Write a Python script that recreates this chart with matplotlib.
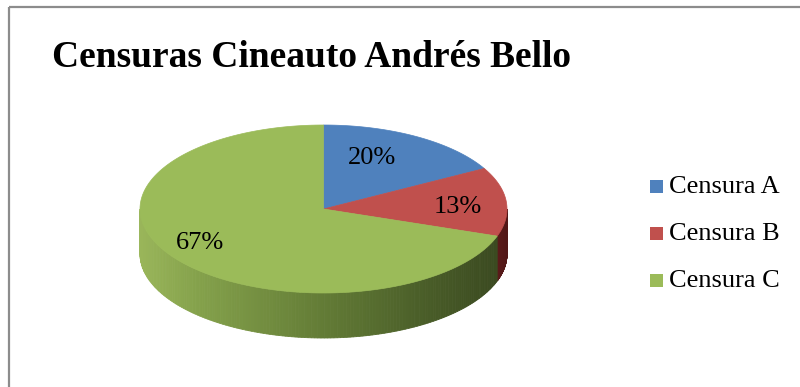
import numpy as np
import matplotlib
matplotlib.use("Agg")
import matplotlib.pyplot as plt
from matplotlib.patches import Polygon, Rectangle
from matplotlib.colors import to_rgb

TITLE = "Censuras Cineauto Andrés Bello"
labels = ["Censura A", "Censura B", "Censura C"]
values = [20, 13, 67]
colors = ["#4F81BD", "#C0504D", "#9BBB59"]

# side wall shading stops (x in px -> colour)
GREEN_SIDE = [(140, "#9AB65A"), (200, "#84A14B"), (323, "#637C36"),
              (420, "#4B5F29"), (500, "#3A4920")]
RED_SIDE = [(470, "#7A2624"), (510, "#4E1616")]

CX, CY, A, B, DEPTH = 323.5, 209.0, 183.5, 84.0, 45.0
PERSP = 11.4  # degrees of angular skew from the 3D view
SERIF = ["Liberation Serif", "DejaVu Serif"]


def view(theta_deg):
    # true slice angle -> angle on the drawn ellipse
    return theta_deg + PERSP * np.cos(np.radians(theta_deg))


def pt(phi_deg, r=1.0):
    t = np.radians(phi_deg)
    return CX + r * A * np.cos(t), CY - r * B * np.sin(t)


def shade(x, stops):
    xs = [s[0] for s in stops]
    cs = np.array([to_rgb(s[1]) for s in stops])
    return tuple(np.interp(x, xs, cs[:, k]) for k in range(3))


fig = plt.figure(figsize=(8.0, 3.87), dpi=100, facecolor="white")
ax = fig.add_axes([0, 0, 1, 1])
ax.set_xlim(0, 800)
ax.set_ylim(387, 0)
ax.axis("off")

# chart border (right/bottom edges fall outside the crop)
ax.add_patch(Rectangle((9, 7), 900, 500, fill=False, edgecolor="#8C8C8C", lw=1.6))

total = float(sum(values))
true_bounds = 90 - 360 * np.concatenate([[0], np.cumsum(values)]) / total
bounds = view(true_bounds)

# front side walls
for i in range(len(values)):
    hi, lo = bounds[i], bounds[i + 1]
    stops = GREEN_SIDE if i == 2 else RED_SIDE
    # visible front part is where sin(phi) < 0
    for k in range(-1, 1):
        a0 = max(lo, -180 + 360 * k)
        a1 = min(hi, 0 + 360 * k)
        if a1 <= a0:
            continue
        edges = np.linspace(a0, a1, 160)
        for t0, t1 in zip(edges[:-1], edges[1:]):
            x0, y0 = pt(t0)
            x1, y1 = pt(t1)
            c = shade((x0 + x1) / 2, stops)
            ax.add_patch(Polygon([(x0, y0), (x1, y1), (x1, y1 + DEPTH), (x0, y0 + DEPTH)],
                                 closed=True, facecolor=c, edgecolor=c, lw=0.6))

# top faces
for i in range(len(values)):
    ts = np.linspace(bounds[i], bounds[i + 1], 200)
    xs, ys = pt(ts)
    verts = [(CX, CY)] + list(zip(xs, ys))
    ax.add_patch(Polygon(verts, closed=True, facecolor=colors[i], edgecolor=colors[i], lw=0.5))

# percentage labels
label_r = [0.66, 0.73, 0.785]
label_shift = [5.8, -4.0, 10.2]
for i, v in enumerate(values):
    mid = view((true_bounds[i] + true_bounds[i + 1]) / 2) + label_shift[i]
    x, y = pt(mid, label_r[i])
    ax.text(x, y, f"{v / total * 100:.0f}%", ha="center", va="center",
            fontsize=19, family=SERIF, color="black")

# title
ax.text(52, 67, TITLE, ha="left", va="baseline", fontsize=27, fontweight="bold",
        family=SERIF, color="black")

# legend
for i, lab in enumerate(labels):
    y = 186 + i * 47
    ax.add_patch(Rectangle((650, y - 6.5), 13, 13, facecolor=colors[i], edgecolor="none"))
    ax.text(669, y + 1, lab, ha="left", va="center", fontsize=19, family=SERIF, color="black")

fig.savefig("out.png", dpi=100, facecolor="white")
